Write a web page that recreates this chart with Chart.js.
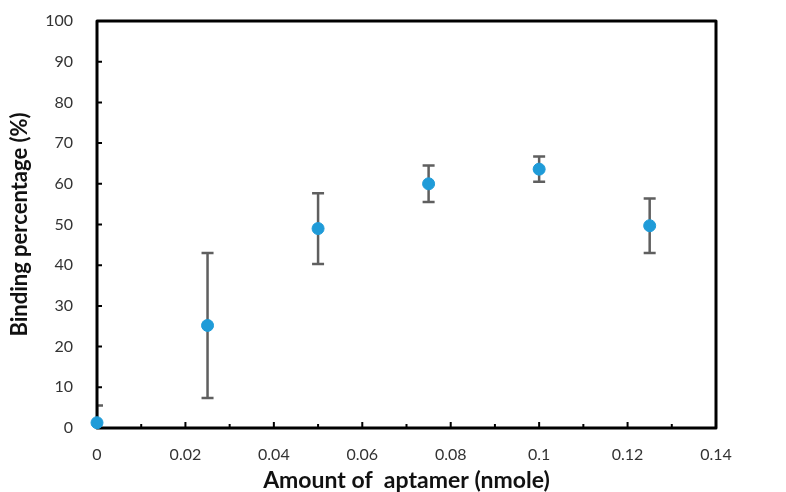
<!DOCTYPE html>
<html>
<head>
<meta charset="utf-8">
<script src="https://cdn.jsdelivr.net/npm/chart.js@4/dist/chart.umd.min.js"></script>
<style>
  html, body { margin: 0; padding: 0; background: #fff; }
  #wrap { width: 786px; height: 492px; }
</style>
</head>
<body>
<div id="wrap"><canvas id="bindingChart"></canvas></div>
<script>
// data
const aptamerAmount = [0, 0.025, 0.05, 0.075, 0.1, 0.125];
const bindingPercent = [1.3, 25.2, 49.0, 60.0, 63.6, 49.7];
const bindingError = [4.2, 17.8, 8.7, 4.5, 3.1, 6.7];

const xTickValues = [0, 0.02, 0.04, 0.06, 0.08, 0.1, 0.12, 0.14];
const xTickLabels = ['0', '0.02', '0.04', '0.06', '0.08', '0.1', '0.12', '0.14'];
const xMinorTicks = [0.01, 0.03, 0.05, 0.07, 0.09, 0.11, 0.13];
const yTickValues = [0, 10, 20, 30, 40, 50, 60, 70, 80, 90, 100];

const points = aptamerAmount.map((x, i) => ({ x: x, y: bindingPercent[i] }));

// frame, inward ticks and error bars
const framePlugin = {
    id: 'framePlugin',
    beforeDatasetsDraw(chart) {
        const ctx = chart.ctx;
        const a = chart.chartArea;
        const xs = chart.scales.x;
        const ys = chart.scales.y;

        // error bars (clipped to plot area)
        ctx.save();
        ctx.beginPath();
        ctx.rect(a.left, a.top, a.right - a.left, a.bottom - a.top);
        ctx.clip();
        ctx.strokeStyle = '#5f5f5f';
        ctx.lineWidth = 2.5;
        aptamerAmount.forEach((x, i) => {
            const px = xs.getPixelForValue(x);
            const top = ys.getPixelForValue(bindingPercent[i] + bindingError[i]);
            const bot = ys.getPixelForValue(Math.max(0, bindingPercent[i] - bindingError[i]));
            ctx.beginPath();
            ctx.moveTo(px, top); ctx.lineTo(px, bot);
            ctx.moveTo(px - 6, top); ctx.lineTo(px + 6, top);
            if (bindingPercent[i] - bindingError[i] > 0) {
                ctx.moveTo(px - 6, bot); ctx.lineTo(px + 6, bot);
            }
            ctx.stroke();
        });
        ctx.restore();

        ctx.save();
        // ticks
        ctx.strokeStyle = '#000';
        ctx.lineWidth = 2;
        ctx.beginPath();
        xTickValues.forEach(v => {
            const px = xs.getPixelForValue(v);
            ctx.moveTo(px, a.bottom); ctx.lineTo(px, a.bottom - 6);
        });
        xMinorTicks.forEach(v => {
            const px = xs.getPixelForValue(v);
            ctx.moveTo(px, a.bottom); ctx.lineTo(px, a.bottom - 4);
        });
        yTickValues.forEach(v => {
            const py = ys.getPixelForValue(v);
            ctx.moveTo(a.left, py); ctx.lineTo(a.left + 5, py);
        });
        ctx.stroke();

        // box
        ctx.lineWidth = 3;
        ctx.lineJoin = 'round';
        ctx.strokeRect(a.left, a.top, a.right - a.left, a.bottom - a.top);
        ctx.restore();
    }
};

const ctx = document.getElementById('bindingChart').getContext('2d');
new Chart(ctx, {
    type: 'scatter',
    data: {
        datasets: [{
            label: 'Binding percentage',
            data: points,
            backgroundColor: '#1f9bd8',
            borderColor: '#1f9bd8',
            pointRadius: 6,
            pointHoverRadius: 6,
            clip: false
        }]
    },
    options: {
        responsive: true,
        maintainAspectRatio: false,
        animation: false,
        layout: { padding: { top: 21, right: 70, left: 0, bottom: 0 } },
        plugins: {
            legend: { display: false },
            tooltip: { enabled: false }
        },
        scales: {
            x: {
                type: 'linear',
                min: 0,
                max: 0.14,
                afterFit: s => { s.height = 64; s.paddingLeft = 0; s.paddingRight = 0; },
                afterBuildTicks: s => { s.ticks = xTickValues.map(v => ({ value: v })); },
                grid: { display: false, drawTicks: false },
                border: { display: false },
                ticks: {
                    padding: 17,
                    color: '#333',
                    font: { family: 'Lato', size: 16 },
                    callback: (v, i) => xTickLabels[i]
                },
                title: {
                    display: true,
                    text: 'Amount of  aptamer (nmole)',
                    color: '#111',
                    font: { family: 'Lato', size: 23, weight: 'bold' },
                    padding: { top: 0, bottom: -2 }
                }
            },
            y: {
                min: 0,
                max: 100,
                afterFit: s => { s.width = 97; s.paddingTop = 0; s.paddingBottom = 0; },
                afterBuildTicks: s => { s.ticks = yTickValues.map(v => ({ value: v })); },
                grid: { display: false, drawTicks: false },
                border: { display: false },
                ticks: {
                    padding: 24,
                    color: '#333',
                    font: { family: 'Lato', size: 16 }
                },
                title: {
                    display: true,
                    text: 'Binding percentage (%)',
                    color: '#111',
                    font: { family: 'Lato', size: 22, weight: 'bold' },
                    padding: { top: 7, bottom: 0 }
                }
            }
        }
    },
    plugins: [framePlugin]
});
</script>
</body>
</html>
